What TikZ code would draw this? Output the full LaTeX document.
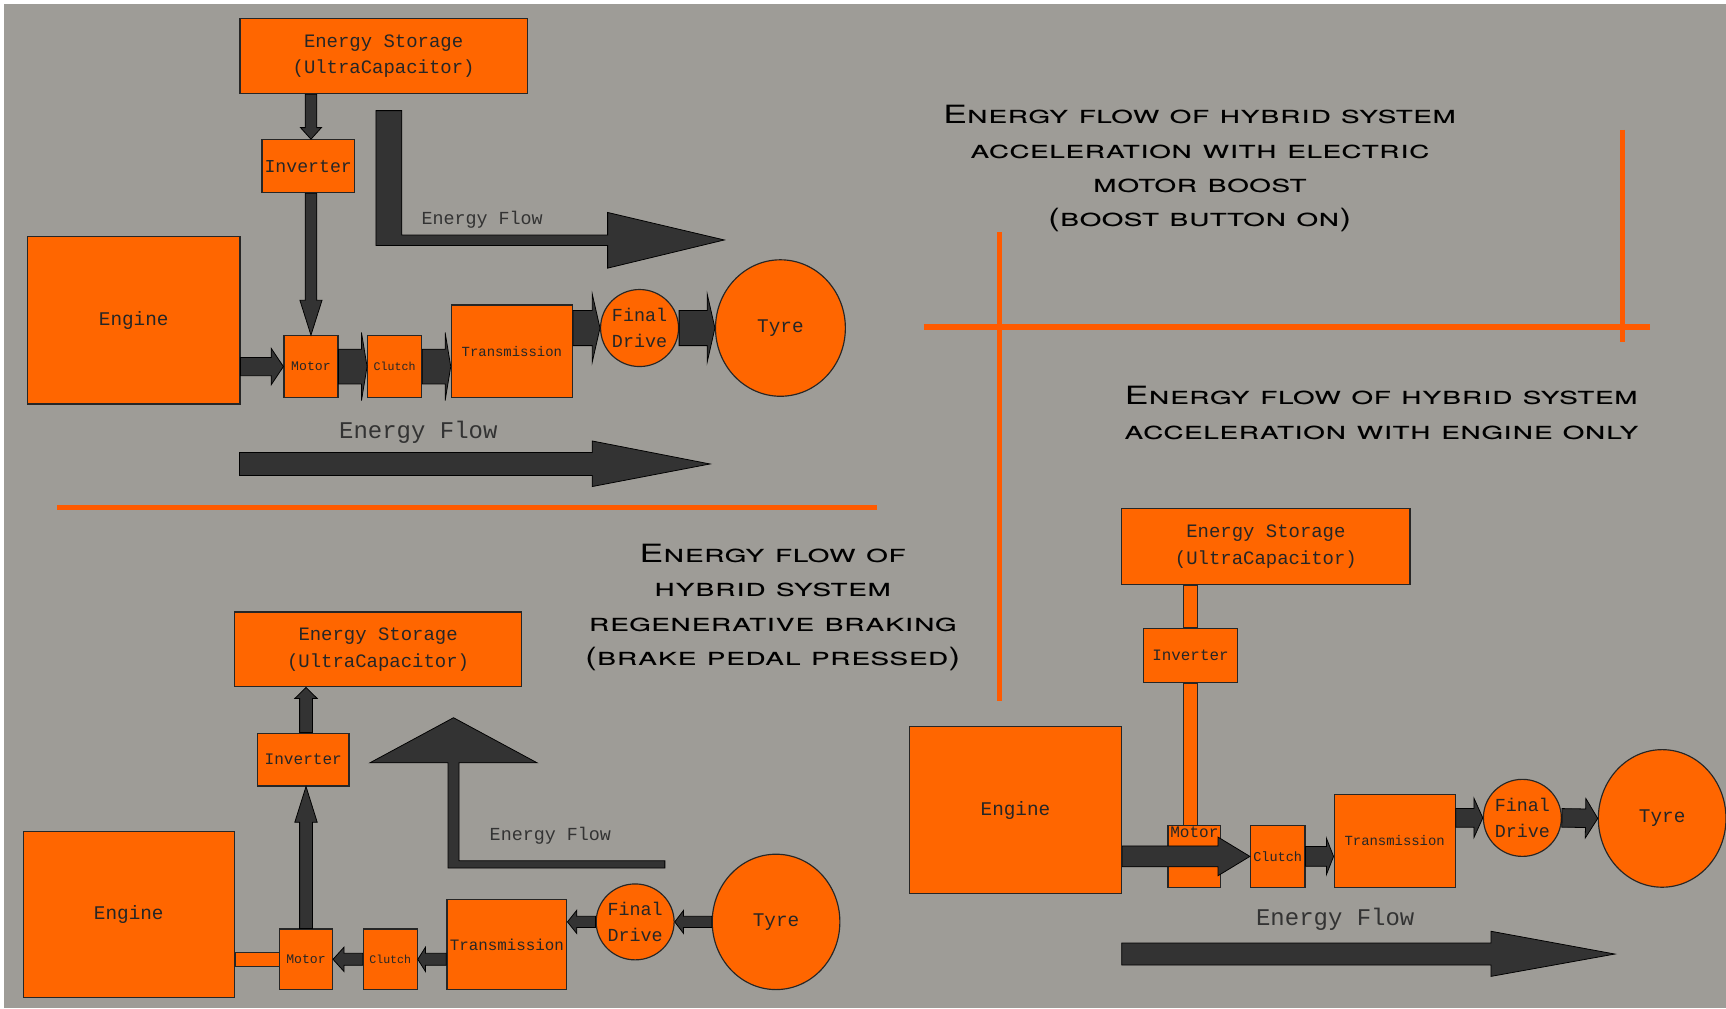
\documentclass[tikz,border=0pt]{standalone}
\usepackage{fontspec}
\usepackage{graphicx}
\usetikzlibrary{shapes.geometric,calc}
\newfontfamily\boxfont{Liberation Mono}
\newfontfamily\titlefont{TeX Gyre Heros}
\definecolor{panelgrey}{RGB}{158,156,151}
\definecolor{boxorange}{RGB}{255,102,0}
\definecolor{lineorange}{RGB}{255,90,0}
\definecolor{flowgrey}{RGB}{51,51,51}

\tikzset{
  unit/.style={draw=black!85, fill=boxorange, line width=0.6pt, inner sep=0pt,
    align=center, text=black!85},
  wheel/.style={unit, ellipse},
  flow/.style={draw=black, fill=flowgrey, line width=0.4pt},
  link/.style={draw=black!85, fill=boxorange, line width=0.5pt},
  divider/.style={draw=lineorange, line width=2.7pt},
  heading/.style={inner sep=0pt, font=\titlefont\scshape\fontsize{13}{17.8}\selectfont},
  flowtext/.style={font=\boxfont\fontsize{9.5}{11}\selectfont, text=black!80},
  bigflowtext/.style={font=\boxfont\fontsize{12.4}{14}\selectfont, text=flowgrey},
}

% wide heading lines
\newcommand{\headlines}[1]{\scalebox{1.41}[1]{\begin{tabular}{@{}c@{}}#1\end{tabular}}}

% block arrow: [style]{from}{to}{half shaft}{half head}{head length}
\newcommand{\blockarrow}[6][flow]{%
  \path[#1] let \p1=#2, \p2=#3,
    \n1={veclen(\x2-\x1,\y2-\y1)}, \n2={atan2(\y2-\y1,\x2-\x1)} in
    [shift={(\x1,\y1)}, rotate=\n2]
    (0pt,#4) -- ({\n1-#6},#4) -- ({\n1-#6},#5) -- ({\n1},0pt)
    -- ({\n1-#6},-#5) -- ({\n1-#6},-#4) -- (0pt,-#4) -- cycle;}

\begin{document}
\begin{tikzpicture}[x=0.02cm, y=-0.02cm]
  \useasboundingbox (0,0) rectangle (1568,916);
  \fill[white] (0,0) rectangle (1568,916);
  \fill[panelgrey] (4,4) rectangle (1568,916);

  % dividers
  \draw[divider] (52,461) -- (797,461);
  \draw[divider] (839,297) -- (1499,297);
  \draw[divider] (908,211) -- (908,637);
  \draw[divider] (1474,118) -- (1474,311);

  % headings
  \node[heading] (boosttitle) at (1090,153) {\headlines{Energy flow of hybrid system\\acceleration with electric\\motor boost\\(boost button on)}};
  \node[heading] (enginetitle) at (1255,377) {\headlines{Energy flow of hybrid system\\acceleration with engine only}};
  \node[heading] (regentitle) at (702,551.5) {\headlines{Energy flow of\\hybrid system\\regenerative braking\\(brake pedal pressed)}};

  % --- motor boost ---
  \node[unit, minimum width=5.22cm, minimum height=1.36cm, font=\boxfont\fontsize{9.8}{13.7}\selectfont] (es1) at (348.5,51) {Energy Storage\\(UltraCapacitor)};
  \node[unit, minimum width=1.68cm, minimum height=0.96cm, font=\boxfont\fontsize{9.4}{11}\selectfont] (inv1) at (280,151) {Inverter};
  \node[unit, minimum width=3.86cm, minimum height=3.04cm, font=\boxfont\fontsize{10}{12}\selectfont] (engine1) at (121.5,291) {Engine};
  \node[unit, minimum width=0.98cm, minimum height=1.12cm, font=\boxfont\fontsize{6.8}{8}\selectfont] (motor1) at (282.5,333) {Motor};
  \node[unit, minimum width=0.98cm, minimum height=1.12cm, font=\boxfont\fontsize{6}{7}\selectfont] (clutch1) at (358.5,333) {Clutch};
  \node[unit, minimum width=2.2cm, minimum height=1.68cm, font=\boxfont\fontsize{7.2}{8}\selectfont] (trans1) at (465,319) {Transmission};
  \node[wheel, minimum width=1.4cm, minimum height=1.4cm, font=\boxfont\fontsize{9.5}{13.7}\selectfont] (fd1) at (581,298) {Final\\Drive};
  \node[wheel, minimum width=2.36cm, minimum height=2.48cm, font=\boxfont\fontsize{10}{12}\selectfont] (tyre1) at (709,298) {Tyre};

  \blockarrow{(motor1.north |- es1.south)}{(motor1.north |- inv1.north)}{3pt}{5.4pt}{6pt}
  \blockarrow{(motor1.north |- inv1.south)}{(motor1.north)}{3pt}{5.7pt}{18pt}
  \blockarrow{(engine1.east |- motor1.west)}{(motor1.west)}{4.7pt}{9.4pt}{6.3pt}
  \blockarrow{(motor1.east)}{(clutch1.west)}{9pt}{17.6pt}{2.9pt}
  \blockarrow{(clutch1.east)}{(clutch1.east -| trans1.west)}{9pt}{17.6pt}{2.9pt}
  \blockarrow{(trans1.east |- fd1.west)}{(fd1.west)}{9.1pt}{17.6pt}{4pt}
  \blockarrow{(fd1.east)}{(tyre1.west)}{9.1pt}{17.6pt}{4pt}

  \draw[flow] (341.5,100.5) -- (365,100.5) -- (365,213.5) -- (552,213.5) -- (552,193) -- (658,218)
    -- (552,243.6) -- (552,223) -- (341.5,223) -- cycle;
  \node[flowtext] (flowlabel1) at (438,200) {Energy Flow};
  \draw[flow] (217.5,411) -- (538,411) -- (538,400.6) -- (645,421.5) -- (538,442) -- (538,432)
    -- (217.5,432) -- cycle;
  \node[bigflowtext] (flowlabel2) at (380,393) {Energy Flow};

  % --- regenerative braking ---
  \node[unit, minimum width=5.22cm, minimum height=1.36cm, font=\boxfont\fontsize{9.8}{13.7}\selectfont] (es2) at (343.5,590) {Energy Storage\\(UltraCapacitor)};
  \node[unit, minimum width=1.66cm, minimum height=0.96cm, font=\boxfont\fontsize{8.3}{10}\selectfont] (inv2) at (275.5,690) {Inverter};
  \node[unit, minimum width=3.84cm, minimum height=3.02cm, font=\boxfont\fontsize{10}{12}\selectfont] (engine2) at (117,830.5) {Engine};
  \node[unit, minimum width=0.96cm, minimum height=1.1cm, font=\boxfont\fontsize{6.8}{8}\selectfont] (motor2) at (278,871.5) {Motor};
  \node[unit, minimum width=0.98cm, minimum height=1.1cm, font=\boxfont\fontsize{6}{7}\selectfont] (clutch2) at (354.5,871.5) {Clutch};
  \node[unit, minimum width=2.18cm, minimum height=1.64cm, font=\boxfont\fontsize{8.2}{9}\selectfont] (trans2) at (460.5,858) {Transmission};
  \node[wheel, minimum width=1.36cm, minimum height=1.38cm, font=\boxfont\fontsize{9.5}{13.7}\selectfont] (fd2) at (577,837.5) {Final\\Drive};
  \node[wheel, minimum width=2.32cm, minimum height=2.46cm, font=\boxfont\fontsize{10}{12}\selectfont] (tyre2) at (705,837.5) {Tyre};

  \blockarrow[link]{(engine2.east |- motor2.west)}{(motor2.west)}{3.7pt}{3.7pt}{0pt}
  \blockarrow{(motor2.north |- inv2.north)}{(motor2.north |- es2.south)}{3.3pt}{5.8pt}{5.7pt}
  \blockarrow{(motor2.north)}{(motor2.north |- inv2.south)}{3.3pt}{5.8pt}{18.5pt}
  \blockarrow{(tyre2.west)}{(fd2.east)}{2.9pt}{6pt}{4.6pt}
  \blockarrow{(fd2.west)}{(fd2.west -| trans2.east)}{2.9pt}{6pt}{4.8pt}
  \blockarrow{(trans2.west |- clutch2.east)}{(clutch2.east)}{3.1pt}{6.3pt}{4pt}
  \blockarrow{(clutch2.west)}{(motor2.east)}{3.1pt}{6.3pt}{5.7pt}

  \draw[flow] (407,788.6) -- (604,788.6) -- (604,782) -- (417,782) -- (417,693) -- (488,693)
    -- (412,652) -- (336,693) -- (407,693) -- cycle;
  \node[flowtext] (flowlabel3) at (500,759) {Energy Flow};

  % --- engine only ---
  \node[unit, minimum width=5.24cm, minimum height=1.38cm, font=\boxfont\fontsize{9.8}{13.7}\selectfont] (es3) at (1150,496.5) {Energy Storage\\(UltraCapacitor)};
  \node[unit, minimum width=1.7cm, minimum height=0.98cm, font=\boxfont\fontsize{8.2}{10}\selectfont] (inv3) at (1081.5,595.5) {Inverter};
  \node[unit, minimum width=3.86cm, minimum height=3.03cm, font=\boxfont\fontsize{10}{12}\selectfont] (engine3) at (922.5,736) {Engine};
  \blockarrow[link]{(inv3.north |- es3.south)}{(inv3.north)}{3.7pt}{3.7pt}{0pt}
  \node[unit, minimum width=0.96cm, minimum height=1.12cm,
    label={[font=\boxfont\fontsize{8.3}{9}\selectfont, text=black!85, anchor=north, inner sep=0.6pt]north:Motor}] (motor3) at (1085,778) {};
  \blockarrow[link]{(inv3.south)}{(inv3.south |- motor3.north)}{3.7pt}{3.7pt}{0pt}
  \node[unit, minimum width=0.99cm, minimum height=1.12cm, font=\boxfont\fontsize{7}{8}\selectfont] (clutch3) at (1160.75,778) {Clutch};
  \node[unit, minimum width=2.2cm, minimum height=1.68cm, font=\boxfont\fontsize{7.2}{8}\selectfont] (trans3) at (1267,764) {Transmission};
  \node[wheel, minimum width=1.36cm, minimum height=1.4cm, font=\boxfont\fontsize{9.5}{13.7}\selectfont] (fd3) at (1383,743) {Final\\Drive};
  \node[wheel, minimum width=2.32cm, minimum height=2.5cm, font=\boxfont\fontsize{10}{12}\selectfont] (tyre3) at (1510,743.5) {Tyre};

  \blockarrow{(engine3.east |- clutch3.west)}{(clutch3.west)}{5.4pt}{10pt}{16.5pt}
  \blockarrow{(clutch3.east)}{(clutch3.east -| trans3.west)}{5.1pt}{9.4pt}{3.7pt}
  \blockarrow{(trans3.east |- fd3.west)}{(fd3.west)}{4.8pt}{10.2pt}{4.6pt}
  \blockarrow{(fd3.east)}{(tyre3.west)}{4.8pt}{10.2pt}{6.3pt}

  \draw[flow] (1019,856.7) -- (1354.5,856.7) -- (1354.5,846) -- (1467,866.7) -- (1354.5,887)
    -- (1354.5,876.7) -- (1019,876.7) -- cycle;
  \node[bigflowtext] (flowlabel4) at (1213,835) {Energy Flow};
\end{tikzpicture}
\end{document}
